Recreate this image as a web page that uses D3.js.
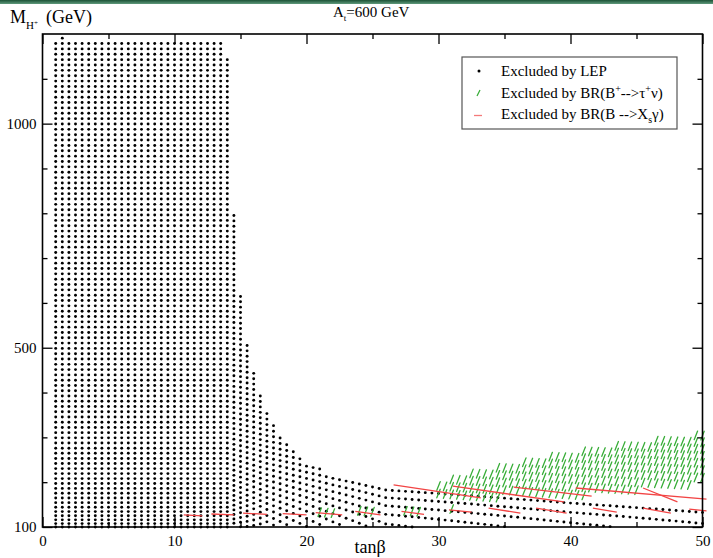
<!DOCTYPE html>
<html><head><meta charset="utf-8">
<script src="https://cdn.jsdelivr.net/npm/d3@7"></script>
<style>
body{margin:0;background:#fff}
svg{display:block}
text{font-family:"Liberation Serif","Times New Roman",serif;fill:#000}
</style>
</head><body>
<svg id="chart" width="713" height="558"></svg>
<script>
// ---------------- data ----------------
// scan columns (tan beta)
const tanB = [1,1.5,2,2.5,3,3.5,4,4.5,5,5.5,6,6.5,7,7.5,8,8.5,9,9.5,10,10.5,11,11.5,12,12.5,13,13.5,14,14.5,15,15.5,16,16.5,17,17.5,18,18.5,19,19.5,20,20.5,21,21.5,22,22.5,23,23.5,24,24.5,25,25.5,26,26.5,27,27.5,28,28.5,29,29.5,30,30.5,31,31.5,32,32.5,33,33.5,34,34.5,35,35.5,36,36.5,37,37.5,38,38.5,39,39.5,40,40.5,41,41.5,42,42.5,43,43.5,44,44.5,45,45.5,46,46.5,47,47.5,48,48.5,49,49.5,50];
// upper edge (GeV) of the LEP-excluded region for each column
const lepTop = [1184,1193,1187,1184,
  1180,1180,1180,1180,1180,1180,1180,1180,1180,1180,1180,1180,1180,1180,1180,1180,1180,1180,1180,1180,1180,1180,
  1150,
  795,615,505,445,400,362,330,305,288,272,258,247,240,231,225,220,214,208,203,199,195,192,190,188,187,186,185,184,183,182,181,180,
  179,178,177,176,175,174,173,172,171,170,169.5,169,168,167,166,165.5,165,164,163,162,
  161,160,159.5,159,158,157,156.5,156,155,154,153.5,153,152.5,152,151.5,151,150.5,150,149.5,149];
// scan rows (m_A, GeV)
const scanMA = [12,24,36,48,60,72,84,96,108,120,132,144,156,168,180,192,204,216,228,240,252,264,276,288,300,312,324,336,348,360,372,384,396,408,420,432,444,456,468,480,492,504,516,528,540,552,564,576,588,600,612,624,636,648,660,672,684,696,708,720,732,744,756,768,780,792,804,816,828,840,852,864,876,888,900,912,924,936,948,960,972,984,996,1008,1020,1032,1044,1056,1068,1080,1092,1104,1116,1128,1140,1152,1164,1176,1188,1200];
// mass shift M^2 = mA^2 + shift(tanB), read at a few tan beta values
const shiftT = [1,14,15,16,17,19,22,26,30,40,50];
const shiftC = [6400,6400,3000,-1000,-5000,-11200,-20000,-30200,-33000,-40000,-46000];
// BR(B+ -> tau nu) excluded band
const greenT  = [29.5,31,33,36,40,43,46,50];
const greenLo = [176,170,165,165,168,175,185,196];
const greenHi = [192,208,225,245,265,280,293,308];
const greenExtraT = [21,21.5,22,24,24.5,25,27.5,28,28.5,31];
const greenExtraM = [133,132,131,136,135,134,136,135,134,140];
// BR(B -> Xs gamma) excluded segments
const redT0 = [11.0,13.1,15.5,18.5,21.0,24.0,27.5,31.1,34.1,37.7,42.0,45.8,49.3, 26.9,31.4,36.0,40.7,45.8];
const redM0 = [127,129,131,130,132,135,135,138,142,142,142,142,140, 194,191,189,187,187];
const redT1 = [11.8,14.2,16.7,19.7,22.4,25.3,28.6,32.2,35.9,39.4,43.2,47.3,50.0, 32.9,39.2,41.3,50.0,47.8];
const redM1 = [125,127,128,127,127,127,128,133,131,131,133,131,136, 165,156,169,162,156];
// axes
const xMajor = [0,10,20,30,40,50];
const xMinor = [5,15,25,35,45];
const yMajor = [100,500,1000];
const yMinor = [200,300,400,600,700,800,900,1100];

// ---------------- drawing ----------------
const svg = d3.select("#chart");
const x = d3.scaleLinear().domain([0,50]).range([42.5,702.5]);
const y = d3.scaleLinear().domain([100,1200]).range([527,34]);
const shift = d3.scaleLinear().domain(shiftT).range(shiftC).clamp(true);
const gLo = d3.scaleLinear().domain(greenT).range(greenLo).clamp(true);
const gHi = d3.scaleLinear().domain(greenT).range(greenHi).clamp(true);

// top decorative band
const defs = svg.append("defs");
const grad = defs.append("linearGradient").attr("id","band").attr("x1",0).attr("y1",0).attr("x2",0).attr("y2",1);
grad.append("stop").attr("offset","0%").attr("stop-color","#1c5236");
grad.append("stop").attr("offset","100%").attr("stop-color","#5f9a7c");
svg.append("rect").attr("x",0).attr("y",0).attr("width",713).attr("height",4).attr("fill","url(#band)");

// build points on the scan grid
const lep = [], green = [];
tanB.forEach((t,i)=>{
  const c = shift(t);
  scanMA.forEach(m=>{
    const v = m*m + c;
    if (v <= 0) return;
    const M = Math.sqrt(v);
    if (M >= 100 && M <= lepTop[i]) lep.push({t,M});
    if (t >= greenT[0] && M >= gLo(t) && M <= gHi(t)) green.push({t,M});
  });
});
greenExtraT.forEach((t,i)=>green.push({t,M:greenExtraM[i]}));

// LEP dots
svg.append("g").selectAll("circle").data(lep).join("circle")
  .attr("cx",d=>x(d.t)).attr("cy",d=>y(d.M)).attr("r",1.45).attr("fill","#000");

// green slashes
svg.append("g").attr("stroke","#38ad38").attr("stroke-width",1.3).attr("stroke-linecap","round")
  .selectAll("line").data(green).join("line")
  .attr("x1",d=>x(d.t)-1.7).attr("y1",d=>y(d.M)+4.3)
  .attr("x2",d=>x(d.t)+1.7).attr("y2",d=>y(d.M)-4.3);

// red segments
svg.append("g").attr("stroke","#f24444").attr("stroke-width",1.3)
  .selectAll("line").data(redT0.map((t,i)=>({t0:t,m0:redM0[i],t1:redT1[i],m1:redM1[i]}))).join("line")
  .attr("x1",d=>x(d.t0)-4).attr("y1",d=>y(d.m0))
  .attr("x2",d=>x(d.t1)+4).attr("y2",d=>y(d.m1));

// axes
const axG = svg.append("g").attr("font-size",15);
function style(g){
  g.select(".domain").remove();
  g.selectAll(".tick line").attr("stroke","#000").attr("stroke-width",1.3);
  g.selectAll("text").attr("font-family","Liberation Serif, serif").attr("font-size",15).attr("fill","#000");
}
axG.append("g").attr("transform","translate(0,527)")
  .call(d3.axisBottom(x).tickValues(xMajor).tickSizeInner(-10).tickSizeOuter(0).tickPadding(8).tickFormat(d3.format("d")))
  .call(style);
axG.append("g").attr("transform","translate(0,527)")
  .call(d3.axisBottom(x).tickValues(xMinor).tickSizeInner(-5).tickSizeOuter(0).tickFormat(""))
  .call(style);
axG.append("g").attr("transform","translate(0,34)")
  .call(d3.axisTop(x).tickValues(xMajor).tickSizeInner(-10).tickSizeOuter(0).tickFormat(""))
  .call(style);
axG.append("g").attr("transform","translate(0,34)")
  .call(d3.axisTop(x).tickValues(xMinor).tickSizeInner(-5).tickSizeOuter(0).tickFormat(""))
  .call(style);
axG.append("g").attr("transform","translate(42.5,0)")
  .call(d3.axisLeft(y).tickValues(yMajor).tickSizeInner(-10).tickSizeOuter(0).tickPadding(6).tickFormat(d3.format("d")))
  .call(style);
axG.append("g").attr("transform","translate(42.5,0)")
  .call(d3.axisLeft(y).tickValues(yMinor).tickSizeInner(-5).tickSizeOuter(0).tickFormat(""))
  .call(style);
axG.append("g").attr("transform","translate(702.5,0)")
  .call(d3.axisRight(y).tickValues(yMajor).tickSizeInner(-10).tickSizeOuter(0).tickFormat(""))
  .call(style);
axG.append("g").attr("transform","translate(702.5,0)")
  .call(d3.axisRight(y).tickValues(yMinor).tickSizeInner(-5).tickSizeOuter(0).tickFormat(""))
  .call(style);

// frame
svg.append("rect").attr("x",x(0)).attr("y",y(1200)).attr("width",x(50)-x(0)).attr("height",y(100)-y(1200))
  .attr("fill","none").attr("stroke","#000").attr("stroke-width",1.6);

// axis titles
const yl = svg.append("text").attr("x",10).attr("y",23).attr("font-size",18);
yl.append("tspan").text("M");
yl.append("tspan").attr("font-size",11).attr("dy",6).text("H");
yl.append("tspan").attr("font-size",7).attr("dy",-4).text("+");
yl.append("tspan").attr("dy",-2).attr("x",46).text("(GeV)");

const tl = svg.append("text").attr("x",333).attr("y",17).attr("font-size",15);
tl.append("tspan").text("A");
tl.append("tspan").attr("font-size",9).attr("dy",4).text("t");
tl.append("tspan").attr("dy",-4).text("=600 GeV");

const xl = svg.append("text").attr("x",370).attr("y",553).attr("text-anchor","middle").attr("font-size",18);
xl.append("tspan").text("tanβ");

// legend
const lg = svg.append("g");
lg.append("rect").attr("x",462).attr("y",57).attr("width",215).attr("height",72)
  .attr("fill","#fff").attr("stroke","#555").attr("stroke-width",1.2);
lg.append("circle").attr("cx",479).attr("cy",71).attr("r",1.5).attr("fill","#000");
lg.append("line").attr("x1",477).attr("y1",96).attr("x2",480).attr("y2",90).attr("stroke","#38ad38").attr("stroke-width",1.3);
lg.append("line").attr("x1",474).attr("y1",115.5).attr("x2",482).attr("y2",115.5).attr("stroke","#f47a7a").attr("stroke-width",1.3);
lg.append("text").attr("x",501).attr("y",76).attr("font-size",15).text("Excluded by LEP");
const t2 = lg.append("text").attr("x",501).attr("y",98).attr("font-size",15);
t2.append("tspan").text("Excluded by BR(B");
t2.append("tspan").attr("font-size",10).attr("dy",-6).text("+");
t2.append("tspan").attr("dy",6).text("-->τ");
t2.append("tspan").attr("font-size",10).attr("dy",-6).text("+");
t2.append("tspan").attr("dy",6).text("ν)");
const t3 = lg.append("text").attr("x",501).attr("y",119).attr("font-size",15);
t3.append("tspan").text("Excluded by BR(B -->X");
t3.append("tspan").attr("font-size",10).attr("dy",4).text("s");
t3.append("tspan").attr("dy",-4).text("γ)");
</script>
</body></html>
